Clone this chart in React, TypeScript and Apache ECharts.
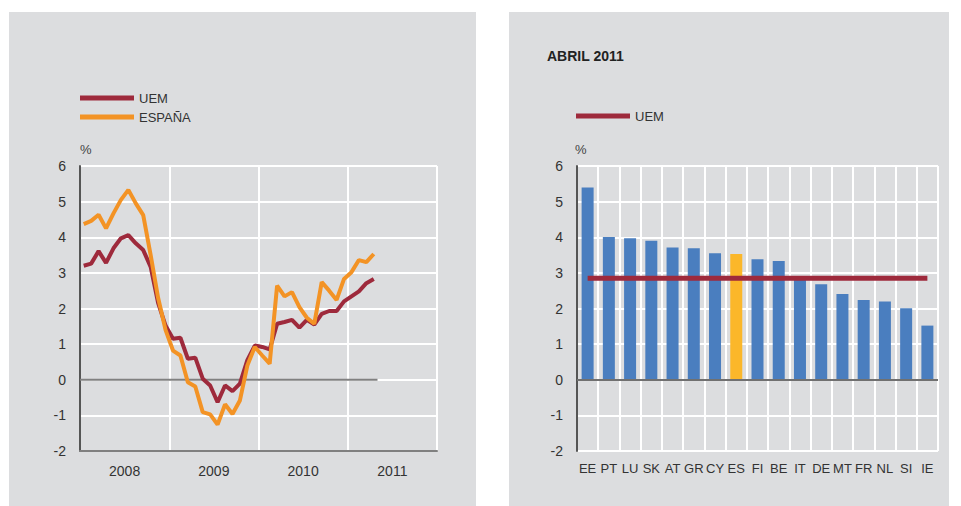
import React, { useEffect, useRef } from "react";
import * as echarts from "echarts";

const years = ["2008", "2009", "2010", "2011"];
const uem = [3.2, 3.26, 3.61, 3.28, 3.69, 3.97, 4.06, 3.83, 3.64, 3.17, 2.16, 1.52, 1.15, 1.18, 0.59, 0.62, 0.03, -0.16, -0.63, -0.16, -0.32, -0.11, 0.55, 0.96, 0.92, 0.85, 1.57, 1.62, 1.68, 1.46, 1.68, 1.55, 1.85, 1.93, 1.93, 2.2, 2.34, 2.48, 2.71, 2.83];
const espana = [4.37, 4.46, 4.63, 4.25, 4.67, 5.05, 5.33, 4.95, 4.62, 3.5, 2.3, 1.4, 0.82, 0.68, -0.07, -0.19, -0.91, -0.97, -1.26, -0.69, -0.96, -0.58, 0.4, 0.92, 0.68, 0.45, 2.64, 2.34, 2.46, 2.04, 1.74, 1.57, 2.74, 2.5, 2.24, 2.83, 3.02, 3.36, 3.3, 3.53];

const countries = ["EE", "PT", "LU", "SK", "AT", "GR", "CY", "ES", "FI", "BE", "IT", "DE", "MT", "FR", "NL", "SI", "IE"];
const countryValues = [5.4, 4.01, 3.97, 3.9, 3.71, 3.69, 3.55, 3.53, 3.38, 3.33, 2.88, 2.68, 2.41, 2.24, 2.2, 2.01, 1.52];
const uemApril = [2.85, 2.85, 2.85, 2.85, 2.85, 2.85, 2.85, 2.85, 2.85, 2.85, 2.85, 2.85, 2.85, 2.85, 2.85, 2.85, 2.85];
const yTicks = { min: -2, max: 6, interval: 1 };

const C_UEM = "#9e2a3c";
const C_ESP = "#f39325";
const C_BAR = "#4a7ebf";
const C_ES = "#fbb72a";
const PANEL = "#dcdddf";
const FONT = "Liberation Sans, Arial, sans-serif";

export default function App() {
  const ref = useRef<HTMLDivElement>(null);
  useEffect(() => {
    if (!ref.current) return;
    const chart = echarts.init(ref.current, undefined, { renderer: "svg" });
    const yAxisBase = (gridIndex: number) => ({
      type: "value",
      gridIndex,
      min: yTicks.min,
      max: yTicks.max,
      interval: yTicks.interval,
      axisLine: { show: true, onZero: false, lineStyle: { color: "#555", width: 2 } },
      axisTick: { show: false },
      axisLabel: { fontSize: 14, color: "#333", margin: 14, fontFamily: FONT },
      splitLine: { show: true, lineStyle: { color: "#fff", width: 2 } },
    });
    const legendText = { fontSize: 13, color: "#333", lineHeight: 14, fontFamily: FONT, fontWeight: "normal" };
    const option: any = {
      animation: false,
      textStyle: { fontFamily: FONT },
      title: {
        text: "ABRIL 2011",
        left: 542,
        top: 44,
        textStyle: { fontSize: 14, fontWeight: "bold", color: "#222", fontFamily: FONT },
      },
      graphic: [
        { type: "rect", z: -10, shape: { x: 9, y: 12, width: 467, height: 494 }, style: { fill: PANEL } },
        { type: "rect", z: -10, shape: { x: 509, y: 12, width: 440, height: 494 }, style: { fill: PANEL } },
        { type: "text", x: 80, y: 149, style: { text: "%", fontSize: 13, fill: "#444", verticalAlign: "middle", fontFamily: FONT } },
        { type: "text", x: 575, y: 149, style: { text: "%", fontSize: 13, fill: "#444", verticalAlign: "middle", fontFamily: FONT } },
      ],
      legend: [
        {
          data: ["UEM", "ESPAÑA"],
          left: 75,
          top: 86,
          orient: "vertical",
          icon: "rect",
          itemWidth: 54,
          itemHeight: 5,
          itemGap: 5,
          selectedMode: false,
          textStyle: legendText,
        },
        {
          data: ["UEM"],
          left: 571,
          top: 104,
          icon: "rect",
          itemWidth: 54,
          itemHeight: 5,
          selectedMode: false,
          textStyle: legendText,
        },
      ],
      grid: [
        { left: 80, right: 524, top: 166, bottom: 55 },
        { left: 577, right: 23, top: 166, bottom: 55 },
      ],
      xAxis: [
        {
          type: "value",
          gridIndex: 0,
          min: 0,
          max: 48,
          interval: 12,
          axisLine: { show: true, onZero: false, lineStyle: { color: "#808080", width: 2 } },
          axisTick: { show: false },
          axisLabel: { show: false },
          splitLine: { show: true, lineStyle: { color: "#fff", width: 2 } },
        },
        {
          type: "category",
          gridIndex: 0,
          data: years,
          boundaryGap: true,
          position: "bottom",
          axisLine: { show: false },
          axisTick: { show: false },
          splitLine: { show: false },
          axisLabel: { fontSize: 14, color: "#333", margin: 13, fontFamily: FONT },
        },
        {
          type: "category",
          gridIndex: 1,
          data: countries,
          boundaryGap: true,
          axisLine: { show: false, onZero: false },
          axisTick: { show: false },
          splitLine: { show: true, interval: 0, lineStyle: { color: "#fff", width: 2 } },
          axisLabel: { fontSize: 13, color: "#333", margin: 11, interval: 0, fontFamily: FONT },
        },
      ],
      yAxis: [yAxisBase(0), yAxisBase(1)],
      series: [
        {
          name: "zero",
          type: "line",
          xAxisIndex: 0,
          yAxisIndex: 0,
          data: [[0, 0], [40, 0]],
          symbol: "none",
          silent: true,
          lineStyle: { color: "#808080", width: 2 },
          z: 1,
        },
        {
          name: "UEM",
          type: "line",
          xAxisIndex: 0,
          yAxisIndex: 0,
          data: uem.map((v, i) => [i + 0.5, v]),
          symbol: "none",
          lineStyle: { color: C_UEM, width: 4 },
          itemStyle: { color: C_UEM },
          z: 3,
        },
        {
          name: "ESPAÑA",
          type: "line",
          xAxisIndex: 0,
          yAxisIndex: 0,
          data: espana.map((v, i) => [i + 0.5, v]),
          symbol: "none",
          lineStyle: { color: C_ESP, width: 4 },
          itemStyle: { color: C_ESP },
          z: 4,
        },
        {
          name: "Países",
          type: "bar",
          xAxisIndex: 2,
          yAxisIndex: 1,
          barWidth: 12,
          data: countryValues.map((v, i) => ({
            value: v,
            itemStyle: { color: countries[i] === "ES" ? C_ES : C_BAR },
          })),
          markLine: {
            silent: true,
            symbol: ["none", "none"],
            label: { show: false },
            lineStyle: { color: "#707070", width: 2, type: "solid" },
            data: [{ yAxis: 0 }],
          },
          z: 2,
        },
        {
          name: "UEM",
          type: "line",
          xAxisIndex: 2,
          yAxisIndex: 1,
          data: uemApril,
          symbol: "none",
          lineStyle: { color: C_UEM, width: 5 },
          itemStyle: { color: C_UEM },
          z: 5,
        },
      ],
    };
    chart.setOption(option);
    return () => chart.dispose();
  }, []);
  return (
    <div
      ref={ref}
      style={{ position: "absolute", left: 0, top: 0, width: 961, height: 506, background: "#fff" }}
    />
  );
}
